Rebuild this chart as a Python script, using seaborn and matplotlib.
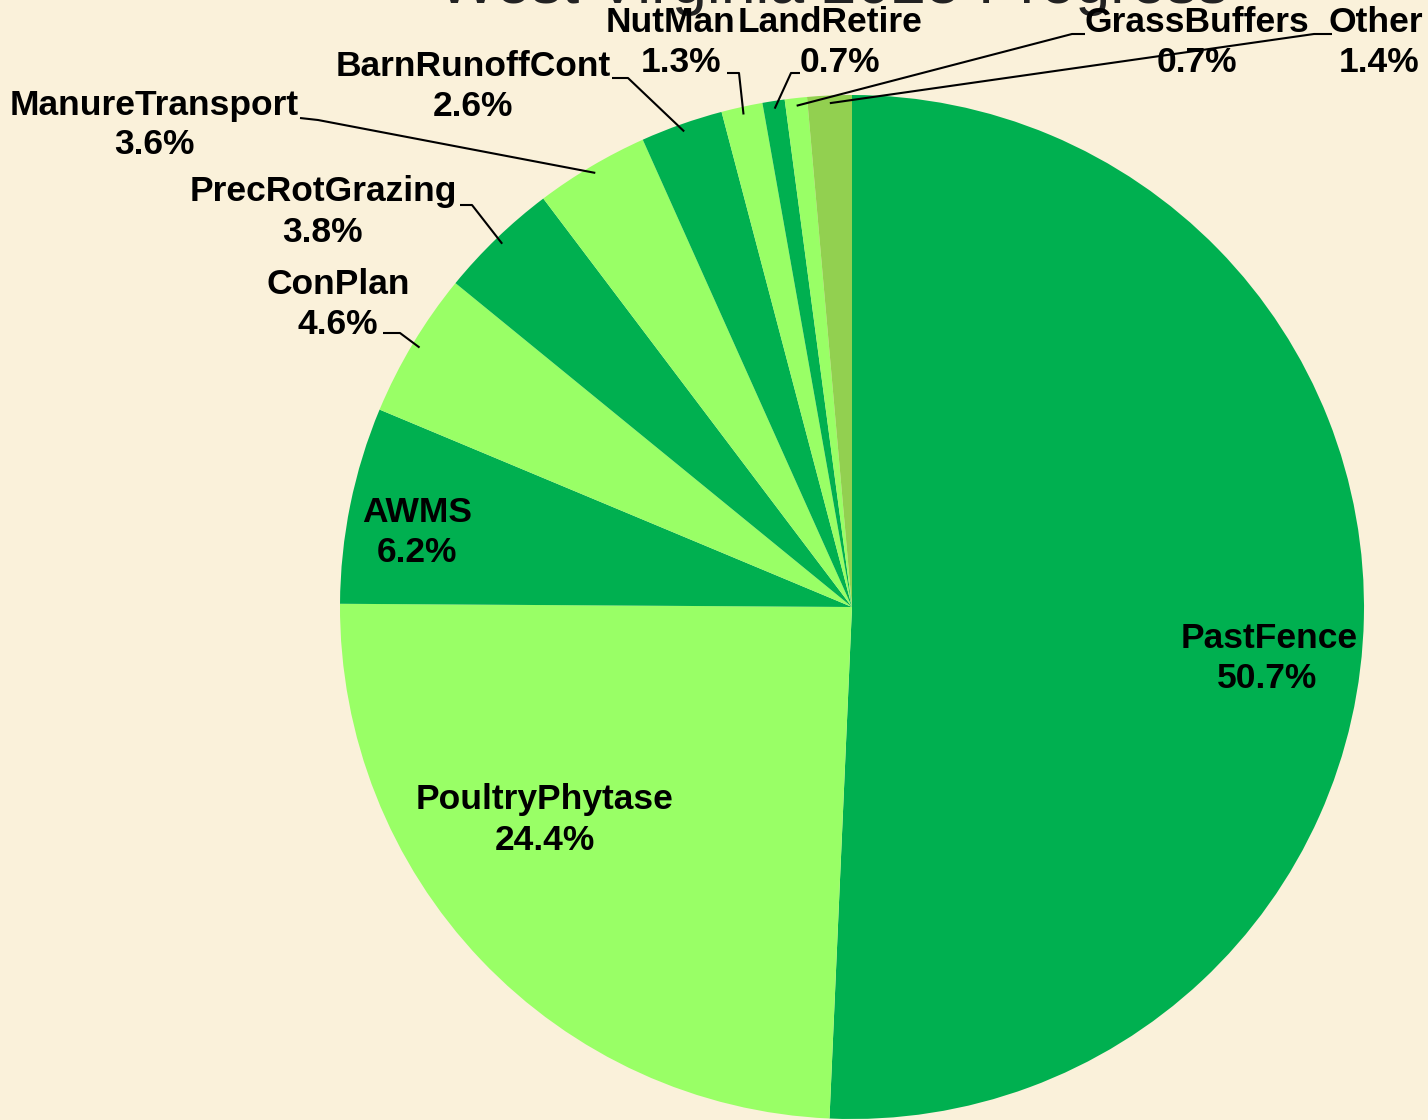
import matplotlib
matplotlib.use("Agg")
import matplotlib.pyplot as plt
import numpy as np
import seaborn as sns

# BMP shares (percent of total), clockwise from 12 o'clock
bmps = ["PastFence", "PoultryPhytase", "AWMS", "ConPlan", "PrecRotGrazing",
        "ManureTransport", "BarnRunoffCont", "NutMan", "LandRetire",
        "GrassBuffers", "Other"]
shares = [50.7, 24.4, 6.2, 4.6, 3.8, 3.6, 2.6, 1.3, 0.7, 0.7, 1.4]
slice_colors = ["#00B050", "#99FF66", "#00B050", "#99FF66", "#00B050",
                "#99FF66", "#00B050", "#99FF66", "#00B050", "#99FF66", "#92D050"]
title = "West Virginia 2025 Progress"

# layout (pixel coords, origin top-left): name x, name y, percent x
W, H = 1428, 1120
CX, CY, R = 852, 607, 512
label_pos = {
    "PastFence": (1269, 638, 1267),
    "PoultryPhytase": (545, 800, 545),
    "AWMS": (417, 513, 417),
    "ConPlan": (338, 285, 338),
    "PrecRotGrazing": (323, 192, 322),
    "ManureTransport": (154, 105, 154),
    "BarnRunoffCont": (473, 66, 473),
    "NutMan": (671, 22, 681),
    "LandRetire": (830, 22, 840),
    "GrassBuffers": (1197, 22, 1197),
    "Other": (1376, 22, 1379),
}
line_gap = 40
# leader line start + elbow for outside labels
leaders = {
    "ConPlan": [(383, 333), (400, 333)],
    "PrecRotGrazing": [(460, 205), (472, 205)],
    "ManureTransport": [(300, 118), (318, 120)],
    "BarnRunoffCont": [(612, 78), (628, 78)],
    "NutMan": [(727, 73), (739, 73)],
    "LandRetire": [(800, 73), (791, 73)],
    "GrassBuffers": [(1085, 34), (1072, 34)],
    "Other": [(1332, 34), (1314, 34)],
}

sns.set_theme(style="white")
plt.rcParams["font.family"] = ["Liberation Sans", "DejaVu Sans"]

bg = "#FAF1DA"
fig = plt.figure(figsize=(W / 100, H / 100), dpi=100, facecolor=bg)
ax = fig.add_axes([0, 0, 1, 1])
ax.set_facecolor(bg)

ax.pie(shares, colors=slice_colors, startangle=90, counterclock=False,
       center=(CX, H - CY), radius=R, frame=True,
       wedgeprops=dict(linewidth=0))
ax.set_xlim(0, W)
ax.set_ylim(0, H)
ax.set_aspect("equal")
ax.axis("off")

# title sits mostly above the canvas, as in the cropped original
ax.text(833, H - 3, title, ha="center", va="baseline", fontsize=45,
        color="#222222")

lbl = dict(ha="center", va="center", fontsize=25.5, fontweight="bold", color="black")
cum = np.cumsum([0] + shares[:-1])
for name, s, c0 in zip(bmps, shares, cum):
    x, y, xp = label_pos[name]
    ax.text(x, H - y, name, **lbl)
    ax.text(xp, H - y - line_gap, f"{s:.1f}%", **lbl)
    if name in leaders:
        mid = np.deg2rad((c0 + s / 2) * 3.6)
        rx = CX + 0.985 * R * np.sin(mid)
        ry = CY - 0.985 * R * np.cos(mid)
        pts = leaders[name] + [(rx, ry)]
        ax.plot([p[0] for p in pts], [H - p[1] for p in pts],
                color="black", lw=1.5, solid_capstyle="butt")

fig.savefig("out.png", dpi=100, facecolor=bg)
